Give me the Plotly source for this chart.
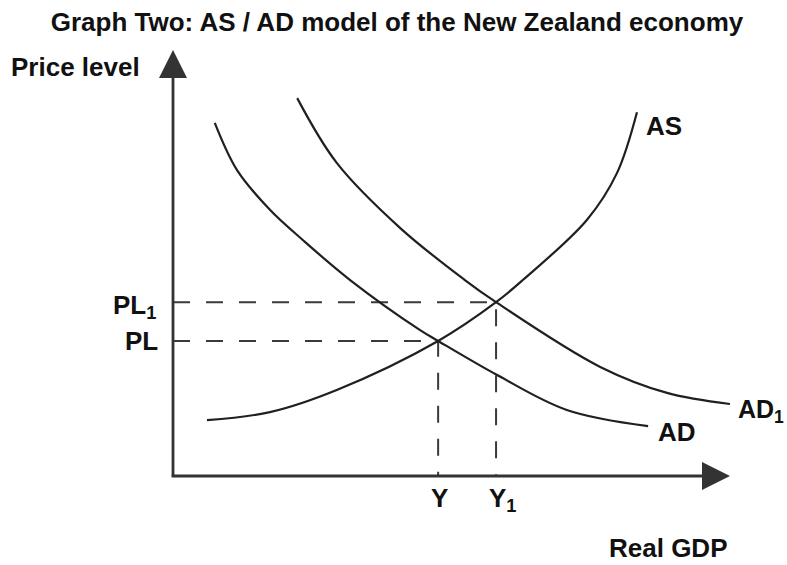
import plotly.graph_objects as go

# ---- data (x = Real GDP, y = Price level, both on a 0-10 scale) ----
ad_x = [0.75, 1.15, 1.74, 2.33, 3.18, 4.43, 4.76, 5.82, 7.07, 8.53]
ad_y = [8.29, 7.18, 6.25, 5.54, 4.60, 3.43, 3.17, 2.37, 1.55, 1.17]

ad1_x = [2.23, 2.94, 4.08, 5.24, 5.80, 7.67, 8.87, 10.0]
ad1_y = [8.87, 7.35, 5.82, 4.60, 4.08, 2.56, 1.95, 1.69]

as_x = [0.61, 1.74, 2.94, 4.76, 5.80, 6.28, 7.43, 7.97, 8.33]
as_y = [1.31, 1.50, 2.02, 3.17, 4.08, 4.60, 6.01, 7.11, 8.54]

eq_y = [4.76, 5.80]          # Y, Y1
eq_pl = [3.17, 4.08]         # PL, PL1
y_labels = ["Y", "Y<sub>1</sub>"]
pl_labels = ["PL", "PL<sub>1</sub>"]
curve_names = ["AD", "AD<sub>1</sub>", "AS"]

x_max = 10.0
y_max = 10.0

INK = "#231f20"
FONT = "Liberation Sans, Arial, Helvetica, sans-serif"

fig = go.Figure()

# dashed guide lines
for gx, gy in zip(eq_y, eq_pl):
    fig.add_trace(go.Scatter(x=[0, gx, gx], y=[gy, gy, 0], mode="lines",
                             line=dict(color="#3a3a3a", width=2, dash="17px,16px"),
                             hoverinfo="skip", showlegend=False))

# curves
for cx, cy in [(ad_x, ad_y), (ad1_x, ad1_y), (as_x, as_y)]:
    fig.add_trace(go.Scatter(x=cx, y=cy, mode="lines",
                             line=dict(color=INK, width=2.2, shape="spline", smoothing=1.0),
                             hoverinfo="skip", showlegend=False))

ann = []
# axes with arrowheads
ann.append(dict(x=x_max, y=0, ax=-0.05, ay=0, xref="x", yref="y", axref="x", ayref="y",
                showarrow=True, arrowhead=2, arrowsize=2.0, arrowwidth=2.8,
                arrowcolor="#333", text=""))
ann.append(dict(x=0, y=y_max, ax=0, ay=-0.05, xref="x", yref="y", axref="x", ayref="y",
                showarrow=True, arrowhead=2, arrowsize=2.0, arrowwidth=2.8,
                arrowcolor="#333", text=""))

lab_font = dict(family=FONT, size=26, color="#111", weight="bold")

# Y tick labels
for gx, t in zip(eq_y, y_labels):
    ann.append(dict(x=gx, y=0, xref="x", yref="y", text=t, showarrow=False,
                    xanchor="left", yanchor="top", xshift=-9, yshift=-5, font=lab_font))
# PL tick labels
for gy, t in zip(eq_pl, pl_labels):
    ann.append(dict(x=0, y=gy, xref="x", yref="y", text=t, showarrow=False,
                    xanchor="right", yanchor="middle",
                    xshift=-13 if t == "PL" else -15, yshift=0 if t == "PL" else -4,
                    font=lab_font))

# curve labels
ann.append(dict(x=ad_x[-1], y=ad_y[-1], xref="x", yref="y", text=curve_names[0], showarrow=False,
                xanchor="left", yanchor="middle", xshift=8, yshift=-6, font=lab_font))
ann.append(dict(x=ad1_x[-1], y=ad1_y[-1], xref="x", yref="y", text=curve_names[1], showarrow=False,
                xanchor="left", yanchor="middle", xshift=6, yshift=-7,
                font=dict(family=FONT, size=25, color="#111", weight="bold")))
ann.append(dict(x=as_x[-1], y=as_y[-1], xref="x", yref="y", text=curve_names[2], showarrow=False,
                xanchor="left", yanchor="middle", xshift=7, yshift=-14, font=lab_font))

# axis titles
ann.append(dict(x=0, y=y_max, xref="x", yref="y", text="Price level", showarrow=False,
                xanchor="right", yanchor="middle", xshift=-31, yshift=-17, font=lab_font))
ann.append(dict(x=x_max, y=0, xref="x", yref="y", text="Real GDP", showarrow=False,
                xanchor="right", yanchor="middle", xshift=0, yshift=-72, font=lab_font))

fig.update_layout(
    width=787, height=565,
    margin=dict(l=173, r=57, t=50, b=89),
    paper_bgcolor="white", plot_bgcolor="white",
    title=dict(text="Graph Two: AS / AD model of the New Zealand economy",
               x=397 / 787, xanchor="center", y=1 - 22 / 565, yanchor="middle",
               font=dict(family=FONT, size=26, color="#111", weight="bold")),
    xaxis=dict(range=[0, x_max], visible=False, fixedrange=True),
    yaxis=dict(range=[0, y_max], visible=False, fixedrange=True),
    annotations=ann,
)

# remove the default 8px page margin so the figure fills the window exactly; no modebar
fig.write_html("out.html",
               config={"displayModeBar": False, "staticPlot": True},
               post_script="document.body.style.margin='0';document.body.style.overflow='hidden';")
